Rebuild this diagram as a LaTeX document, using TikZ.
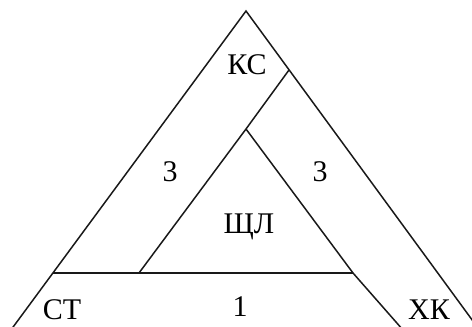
\documentclass[tikz,border=0pt]{standalone}
\usepackage{fontspec}
\setmainfont{Liberation Serif}
\begin{document}
\begin{tikzpicture}[x=1pt,y=-1pt,
  edge/.style={line width=1.5pt, draw=black!90},
  lbl/.style={font=\fontsize{30}{32}\selectfont, inner sep=0pt, anchor=base}]
\clip (0,0) rectangle (472,327);
\coordinate (apex) at (246,11);
\coordinate (bl) at (10.9,330);
\coordinate (br) at (479.5,330);
\coordinate (ra) at (289,70);
\coordinate (ia) at (246,129);
\coordinate (hl) at (53,273);
\coordinate (hm) at (139,273);
\coordinate (hr) at (353,273);
\coordinate (bb) at (403,330);
\draw[edge] (bl) -- (apex) -- (br);
\draw[edge] (ra) -- (ia) -- (hm);
\draw[edge] (ia) -- (hr) -- (bb);
\draw[edge] (hl) -- (hr);
\node[lbl] (ks) at (247,74) {КС};
\node[lbl] (t1) at (170,181) {3};
\node[lbl] (t2) at (320,181) {3};
\node[lbl] (shl) at (249,233) {ЩЛ};
\node[lbl] (st) at (62,319) {СТ};
\node[lbl] (one) at (240,316) {1};
\node[lbl] (hk) at (429,319) {ХК};
\end{tikzpicture}
\end{document}
